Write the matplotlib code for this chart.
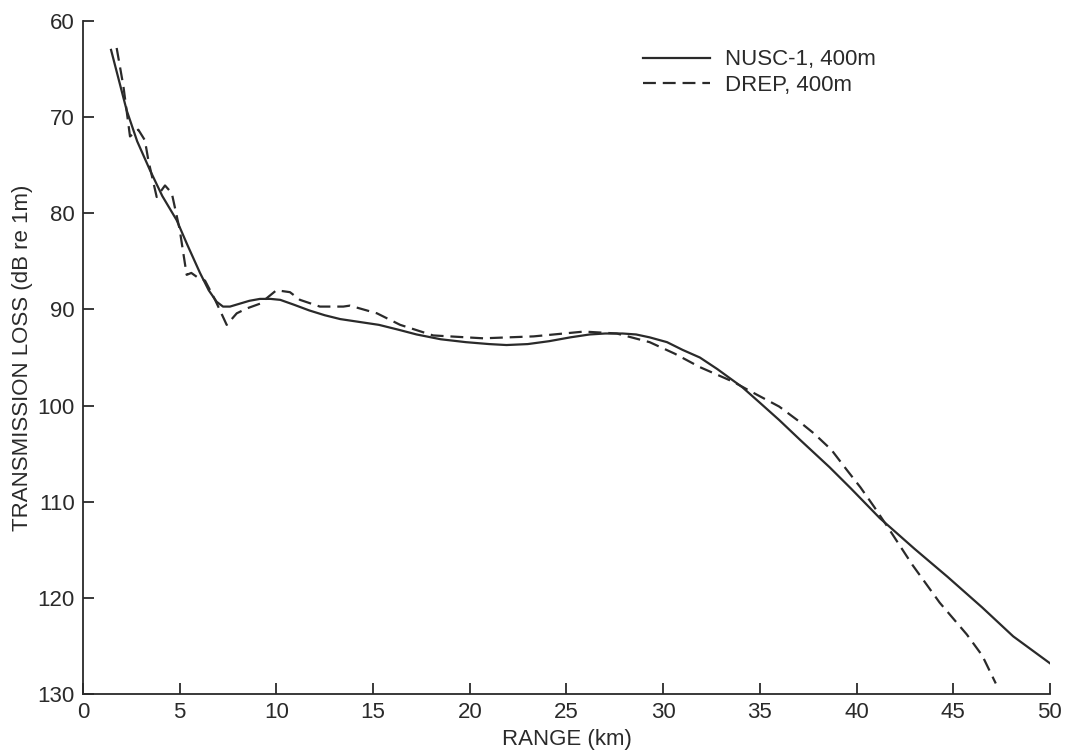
import matplotlib
matplotlib.use("Agg")
import matplotlib.pyplot as plt

plt.rcParams['font.family'] = ['Liberation Sans', 'DejaVu Sans']

# NUSC-1, 400m (solid)
nusc_range = [1.45, 1.9, 2.26, 2.8, 3.46, 4.1, 4.84, 5.4, 6.05, 6.5, 6.91, 7.24, 7.6, 8.1,
              8.6, 9.15, 9.7, 10.2, 10.9, 11.7, 12.5, 13.3, 14.3, 15.3, 16.3, 17.25, 18.5,
              19.8, 21.0, 21.9, 23.0, 24.1, 25.2, 26.2, 27.0, 27.9, 28.6, 29.3, 30.2, 31.0,
              31.9, 32.8, 34.1, 35.0, 36.0, 37.1, 38.6, 39.7, 41.2, 43.0, 44.7, 46.5, 48.1, 50.0]
nusc_loss = [63.0, 66.5, 69.3, 72.5, 75.5, 78.2, 80.7, 83.3, 86.2, 88.0, 89.2, 89.7, 89.7, 89.4,
             89.1, 88.9, 88.9, 89.0, 89.5, 90.1, 90.6, 91.0, 91.3, 91.6, 92.1, 92.6, 93.1,
             93.4, 93.6, 93.7, 93.6, 93.3, 92.9, 92.6, 92.5, 92.5, 92.6, 92.9, 93.4, 94.2,
             95.0, 96.2, 98.1, 99.7, 101.5, 103.6, 106.4, 108.6, 111.7, 114.9, 117.8, 121.0, 124.0, 126.8]

# DREP, 400m (dashed)
drep_range = [1.74, 2.09, 2.43, 2.86, 3.2, 3.38, 3.81, 4.24, 4.59, 5.0, 5.36, 5.6, 5.88,
              6.31, 6.83, 7.43, 7.95, 8.46, 9.15, 10.0, 10.7, 11.22, 12.25, 13.46,
              13.8, 15.2, 16.4, 18.1, 20.7, 23.3, 25.9, 27.6, 29.3, 30.6, 31.9, 33.6, 34.6,
              36.0, 37.0, 37.8, 38.7, 39.5, 40.2, 40.9, 41.6, 42.9, 44.3, 45.7, 46.5, 47.2]
drep_loss = [62.8, 66.8, 72.0, 71.3, 72.4, 74.5, 78.3, 77.1, 77.9, 81.7, 86.4, 86.2, 86.6,
             87.0, 89.0, 91.6, 90.4, 89.9, 89.4, 88.0, 88.2, 89.0, 89.7, 89.7,
             89.6, 90.4, 91.6, 92.7, 93.0, 92.8, 92.3, 92.5, 93.4, 94.6, 96.0, 97.5, 98.6,
             100.1, 101.6, 102.9, 104.6, 106.7, 108.5, 110.5, 112.6, 116.6, 120.5, 123.8, 126.0, 128.9]

x_ticks = [0, 5, 10, 15, 20, 25, 30, 35, 40, 45, 50]
y_ticks = [60, 70, 80, 90, 100, 110, 120, 130]

ink = '#2a2a2a'
fs = 16
fig = plt.figure(figsize=(10.67, 7.52), dpi=100)
ax = fig.add_axes([0.0778, 0.0771, 0.9062, 0.8949])

ax.plot(nusc_range, nusc_loss, color=ink, lw=1.6, label='NUSC-1, 400m')
ax.plot(drep_range, drep_loss, color=ink, lw=1.6, dashes=(5.8, 3.1), label='DREP, 400m')

ax.set_xlim(0, 50)
ax.set_ylim(130, 60)
ax.set_xticks(x_ticks)
ax.set_yticks(y_ticks)
for s in ['top', 'right']:
    ax.spines[s].set_visible(False)
for s in ['left', 'bottom']:
    ax.spines[s].set_linewidth(1.3)
    ax.spines[s].set_color(ink)
ax.tick_params(direction='in', length=8, width=1.3, colors=ink, labelsize=fs, pad=6)
ax.set_xlabel('RANGE (km)', fontsize=fs, color=ink, labelpad=4)
ax.set_ylabel('TRANSMISSION LOSS (dB re 1m)', fontsize=fs, color=ink, labelpad=3)

ax.legend(loc='upper left', bbox_to_anchor=(0.579, 0.958), frameon=False, fontsize=fs,
          handlelength=3.0, handletextpad=0.68, labelspacing=0.2, borderpad=0,
          borderaxespad=0, labelcolor=ink)

fig.savefig('out.png', dpi=100)
